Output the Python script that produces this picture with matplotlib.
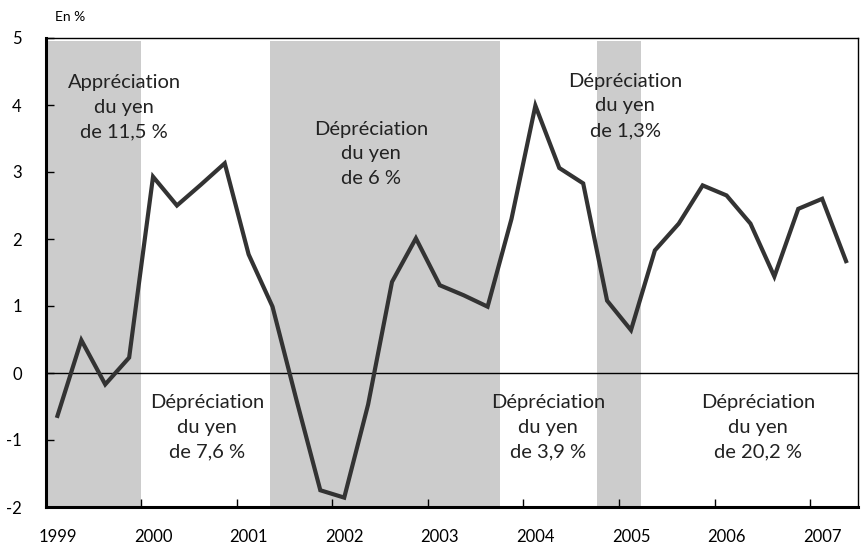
import matplotlib
matplotlib.use("Agg")
import matplotlib.pyplot as plt
import numpy as np

plt.rcParams['font.family'] = ['Lato', 'DejaVu Sans']

# Quarterly values, 1999Q1 .. 2007Q2 (en %)
values = [-0.64, 0.49, -0.17, 0.23,
          2.93, 2.50, 2.81, 3.13,
          1.77, 0.99, -0.40, -1.75,
          -1.86, -0.47, 1.36, 2.01,
          1.31, 1.16, 0.99, 2.30,
          3.99, 3.06, 2.83, 1.08,
          0.64, 1.83, 2.23, 2.80,
          2.65, 2.23, 1.44, 2.45,
          2.60, 1.67]
years = ['1999', '2000', '2001', '2002', '2003', '2004', '2005', '2006', '2007']
# shaded periods (in quarter-index units)
shaded_periods = [(-0.5, 3.5), (8.89, 18.52), (22.58, 24.42)]
annotations = [
    ("Appréciation\ndu yen\nde 11,5 %", 124, 107),
    ("Dépréciation\ndu yen\nde 6 %", 371, 154),
    ("Dépréciation\ndu yen\nde 1,3%", 625, 106),
    ("Dépréciation\ndu yen\nde 7,6 %", 207, 427),
    ("Dépréciation\ndu yen\nde 3,9 %", 548, 427),
    ("Dépréciation\ndu yen\nde 20,2 %", 758, 427),
]

W, H = 861, 551
fig = plt.figure(figsize=(W / 100, H / 100), dpi=100)
L, R, T, B = 45.5, 858, 38, 507
ax = fig.add_axes([L / W, (H - B) / H, (R - L) / W, (B - T) / H])

x = np.arange(len(values))
n = len(values)
ax.set_xlim(-0.5, n - 0.5)
ax.set_ylim(-2, 5)

for a, b in shaded_periods:
    ax.axvspan(a, b, ymin=0, ymax=0.994, color='#cccccc', lw=0, zorder=0)

ax.axhline(0, color='black', lw=1.0, zorder=1)
ax.plot(x, values, color='#333333', lw=3.0, solid_joinstyle='miter', zorder=3)

# ticks
ax.set_yticks(range(-2, 6))
ax.set_yticklabels([str(v) for v in range(-2, 6)], fontsize=12)
ax.tick_params(axis='y', direction='in', length=6, width=1, pad=17)
ax.set_xticks(np.arange(3.5, n - 1, 4))
ax.set_xticklabels([])
ax.tick_params(axis='x', which='major', direction='in', length=6, width=1)
ax.set_xticks(np.arange(0, n, 4), minor=True)
ax.set_xticklabels(years, minor=True, fontsize=12)
ax.tick_params(axis='x', which='minor', length=0, pad=16)

for s in ['left', 'bottom']:
    ax.spines[s].set_linewidth(2.2)
for s in ['top', 'right']:
    ax.spines[s].set_linewidth(1.0)

for txt, px, py in annotations:
    fig.text(px / W, 1 - py / H, txt, ha='center', va='center', fontsize=14.5,
             linespacing=1.55, color='#222222')

fig.text(70 / W, 1 - 17 / H, "En %", ha='center', va='center', fontsize=10)

fig.savefig("out.png", dpi=100)
